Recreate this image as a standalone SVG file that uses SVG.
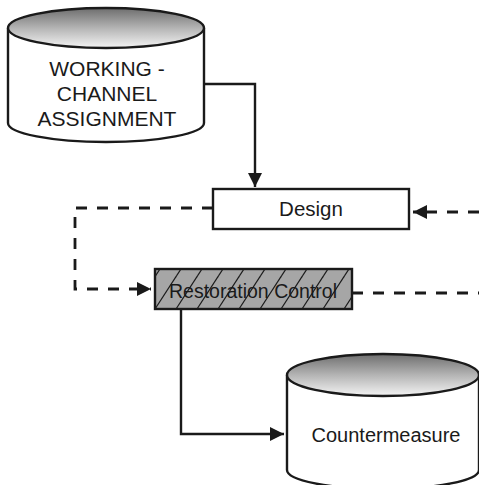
<svg xmlns="http://www.w3.org/2000/svg" width="479" height="485" viewBox="0 0 479 485">
<defs>
<linearGradient id="topg" x1="0" y1="0" x2="0" y2="1">
<stop offset="0" stop-color="#6e6e6e"/>
<stop offset="0.5" stop-color="#b4b4b4"/>
<stop offset="1" stop-color="#f4f4f4"/>
</linearGradient>
<pattern id="hatch" patternUnits="userSpaceOnUse" width="21" height="40" patternTransform="translate(155,269)">
<rect width="21" height="40" fill="#a6a6a6"/>
<line x1="-21" y1="40" x2="5" y2="0" stroke="#1a1a1a" stroke-width="1.2"/>
<line x1="0" y1="40" x2="26" y2="0" stroke="#1a1a1a" stroke-width="1.2"/>
<line x1="21" y1="40" x2="47" y2="0" stroke="#1a1a1a" stroke-width="1.2"/>
</pattern>
<marker id="ah" viewBox="0 0 14 14" refX="14" refY="7" markerWidth="14" markerHeight="14" markerUnits="userSpaceOnUse" orient="auto">
<path d="M0,0 L14,7 L0,14 Z" fill="#1a1a1a"/>
</marker>
<style>
.s{stroke:#1a1a1a;stroke-width:2.4;fill:none}
.d{stroke:#1a1a1a;stroke-width:2.8;fill:none;stroke-dasharray:11 10}
.t{font-family:"Liberation Sans",Arial,sans-serif;fill:#1a1a1a;text-anchor:middle}
</style>
</defs>
<g id="connectors">
<path class="s" d="M204,84 H255 V187" marker-end="url(#ah)"/>
<path class="d" d="M213,208 H75 V289 H151" marker-end="url(#ah)"/>
<path class="d" d="M479,212 H413" marker-end="url(#ah)"/>
<path class="d" d="M352,293 H479"/>
<path class="s" d="M181,309 V434 H284" marker-end="url(#ah)"/>
</g>
<g id="working-channel-assignment">
<path d="M8,28 V123 A98,19 0 0 0 204,123 V28" fill="#fff" stroke="#1a1a1a" stroke-width="2.4"/>
<ellipse cx="106" cy="28" rx="98" ry="20" fill="url(#topg)" stroke="#1a1a1a" stroke-width="2.4"/>
<text class="t" x="107" y="76" font-size="21">WORKING -</text>
<text class="t" x="107" y="101" font-size="21">CHANNEL</text>
<text class="t" x="107" y="126" font-size="21">ASSIGNMENT</text>
</g>
<g id="design">
<rect x="213" y="189" width="196" height="40" fill="#fff" stroke="#1a1a1a" stroke-width="2.4"/>
<text class="t" x="311" y="216" font-size="20.5">Design</text>
</g>
<g id="restoration-control">
<rect x="155" y="269" width="197" height="40" fill="url(#hatch)" stroke="#1a1a1a" stroke-width="2.4"/>
<text class="t" x="253" y="298" font-size="19.5">Restoration Control</text>
</g>
<g id="countermeasure">
<path d="M287,375 V470 A96,19 0 0 0 479,470 V375" fill="#fff" stroke="#1a1a1a" stroke-width="2.4"/>
<ellipse cx="383" cy="375" rx="96" ry="21" fill="url(#topg)" stroke="#1a1a1a" stroke-width="2.4"/>
<text class="t" x="386" y="442" font-size="20">Countermeasure</text>
</g>
</svg>
